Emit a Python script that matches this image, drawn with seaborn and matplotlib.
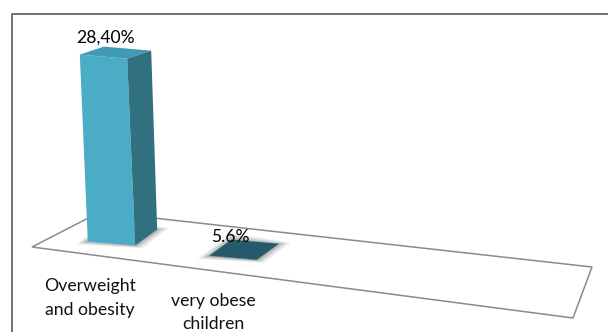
import matplotlib
matplotlib.use("Agg")
import matplotlib.pyplot as plt
from matplotlib.patches import Polygon
from matplotlib.lines import Line2D
from matplotlib.transforms import Affine2D
import seaborn as sns
import pandas as pd

categories = ["Overweight\nand obesity", "very obese\nchildren"]
values = [28.4, 0.056]
value_labels = ["28,40%", "5.6%"]
front_colors = ["#4BACC6", "#2F6F85"]
side_colors = ["#31707F", "#24596A"]
top_colors = ["#3F9AB3", "#25596B"]

W, H = 608, 332
PX_CAT = 121.5      # pixels per category
PX_UNIT = 6.58      # pixels per value unit
X0, Y0 = 111.5, 243.5

sns.set_theme(style="white")
plt.rcParams["font.family"] = ["Lato", "DejaVu Sans"]

fig = plt.figure(figsize=(W / 100, H / 100), dpi=100, facecolor="white")
ax = fig.add_axes([0, 0, 1, 1])
df = pd.DataFrame({"cat": categories, "val": values})
sns.barplot(data=df, x="cat", y="val", hue="cat", palette=front_colors,
            width=0.39, legend=False, ax=ax, saturation=1, zorder=4,
            edgecolor="none", linewidth=0)
bars = list(ax.patches)
ax.set_xlim(-X0 / PX_CAT, (W - X0) / PX_CAT)
ax.set_ylim(-(H - Y0) / PX_UNIT, Y0 / PX_UNIT)
ax.axis("off")
px = Affine2D().scale(1, -1).translate(0, H)  # pixel coords, y down

# floor (decoration)
floor = [(32, 247), (100, 212), (592, 267), (573, 318)]
ax.add_patch(Polygon(floor, closed=True, transform=px, fc="white", ec="#8a8a8a",
                     lw=1.1, zorder=1))

# frame (decoration)
fig.add_artist(Line2D([12, 12, W], [H, 14, 14], transform=px, color="#666666", lw=1.3))

REF = max(values)
LEAN = -8 / PX_CAT / REF     # data-x per value unit
TILT = -0.085 * PX_CAT / PX_UNIT
FLOOR_DROP = 14.5 / PX_UNIT  # base drop per category
LABEL_LIFT = [(2, 19.5), (-3, 21)]
LABEL_OFFSET = [(-21.5, -54.5), (-20, -69)]


def project(x, y, i):
    return (x + LEAN * y, y + TILT * (x - i) - FLOOR_DROP * i)


for i, bar in enumerate(bars):
    x0, w, h = bar.get_x(), bar.get_width(), bar.get_height()
    # shear the library's bar into its perspective position
    bar.set_transform(Affine2D.from_values(1, TILT, LEAN, 1, 0, -TILT * i - FLOOR_DROP * i)
                      + ax.transData)
    t = h / REF
    dx = (22 + 2 * t) / PX_CAT
    dy = (16 - 8 * t) / PX_UNIT
    dx0, dy0 = 22 / PX_CAT, 16 / PX_UNIT
    fl, fr = project(x0, h, i), project(x0 + w, h, i)
    bl, br = project(x0, 0, i), project(x0 + w, 0, i)
    back_l = (fl[0] + dx, fl[1] + dy)
    back_r = (fr[0] + dx, fr[1] + dy)
    ax.add_patch(Polygon([fl, fr, back_r, back_l], fc=top_colors[i], ec="none", zorder=5))
    ax.add_patch(Polygon([fr, br, (br[0] + dx0, br[1] + dy0), back_r],
                         fc=side_colors[i], ec="none", zorder=5))
    # soft contact shadow
    for grow, alpha in [(12, .07), (9, .09), (6, .11), (3, .14)]:
        gx, gy = grow / PX_CAT, grow * 0.6 / PX_UNIT
        ax.add_patch(Polygon([(bl[0] - gx, bl[1] - gy * .4), (br[0] + gx * .6, br[1] - gy * .4),
                              (br[0] + dx0 + gx, br[1] + dy0 + gy * .2),
                              (bl[0] + dx0, bl[1] + dy0 + gy)],
                             fc="#333333", alpha=alpha, ec="none", zorder=2))
    lx = (fl[0] + fr[0]) / 2
    ax.annotate(value_labels[i], xy=(lx, (fl[1] + fr[1]) / 2), xytext=LABEL_LIFT[i],
                textcoords="offset pixels", ha="center", va="center",
                fontsize=12.6, color="black", zorder=6)
    # category labels sit below the floor, staggered like the original
    ax.annotate(categories[i], xy=(i, 0), xytext=LABEL_OFFSET[i],
                textcoords="offset pixels", ha="center", va="center",
                fontsize=12.7, color="#111111", linespacing=1.55,
                annotation_clip=False, zorder=6)

fig.savefig("out.png", dpi=100, facecolor="white")
